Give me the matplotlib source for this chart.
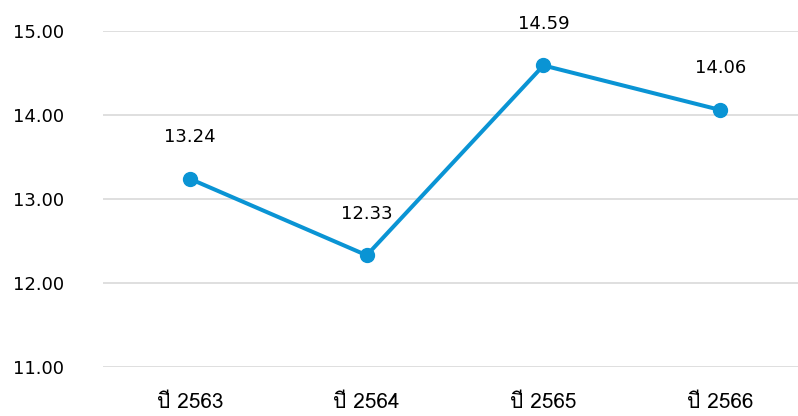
import matplotlib
matplotlib.use("Agg")
import matplotlib.pyplot as plt
from matplotlib import font_manager, ft2font

categories = ["ปี 2563", "ปี 2564", "ปี 2565", "ปี 2566"]
values = [13.24, 12.33, 14.59, 14.06]
yticks = [11, 12, 13, 14, 15]

# look for an installed font that can draw Thai
thai_font = None
for f in font_manager.fontManager.ttflist:
    try:
        cmap = ft2font.FT2Font(f.fname).get_charmap()
    except Exception:
        continue
    if 0x0E1B in cmap and 0x0E35 in cmap:
        thai_font = f.name
        break
thai_family = [thai_font, "DejaVu Sans"] if thai_font else ["DejaVu Sans"]

plt.rcParams["font.family"] = ["DejaVu Sans"]

fig = plt.figure(figsize=(7.98, 4.16), dpi=100)
ax = fig.add_axes([103 / 798, 1 - 367 / 416, 1 - 103 / 798, (367 - 31) / 416])

x = list(range(len(categories)))
ax.plot(x, values, color="#0a94d4", linewidth=2.9, marker="o",
        markersize=10, solid_capstyle="round", zorder=3)

for xi, v in zip(x, values):
    ax.annotate(f"{v:.2f}", (xi, v), xytext=(0, 30), textcoords="offset points",
                ha="center", va="center", fontsize=13, color="black")

ax.set_xlim(-0.492, 3.44)
ax.set_ylim(11, 15)
ax.set_yticks(yticks)
ax.set_yticklabels([f"{t:.2f}" for t in yticks], fontsize=13, color="black")
ax.set_xticks(x)
ax.set_xticklabels(categories, fontsize=15, color="black", family=thai_family)
ax.tick_params(axis="both", length=0)
ax.tick_params(axis="y", pad=28)
ax.tick_params(axis="x", pad=19)

ax.grid(axis="y", color="#d9d9d9", linewidth=1.2)
ax.set_axisbelow(True)
for s in ax.spines.values():
    s.set_visible(False)

fig.savefig("out.png", dpi=100)
